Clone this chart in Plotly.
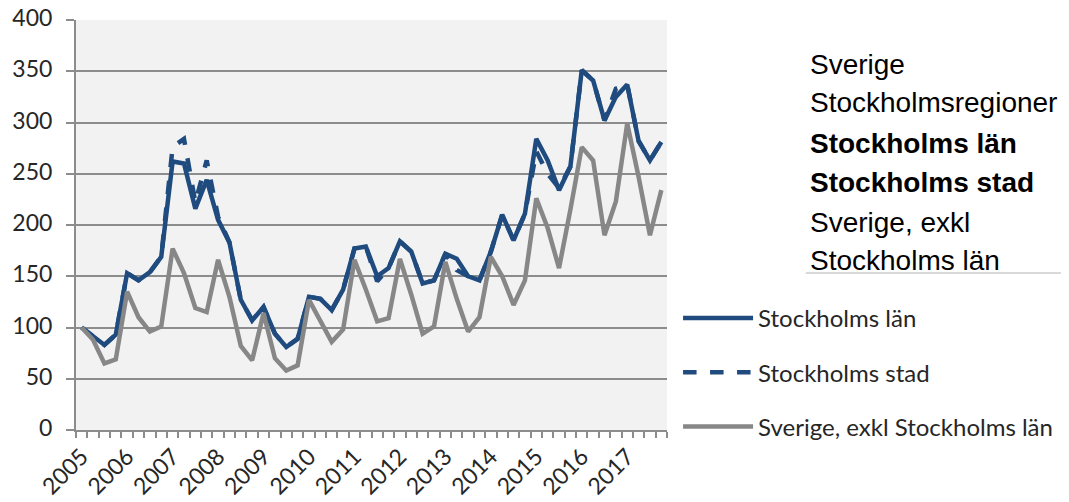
import plotly.graph_objects as go

years = [str(y) for y in range(2005, 2018)]
quarters = [f"{y}K{q}" for y in years for q in range(1, 5)]

lan = [100, 92, 83, 93, 153, 146, 154, 169,
       262, 260, 216, 244, 205, 183, 127, 107,
       120, 94, 81, 89, 130, 128, 117, 137,
       177, 179, 150, 158, 184, 174, 143, 146,
       172, 167, 150, 146, 174, 210, 185, 211,
       284, 263, 234, 257, 351, 341, 302, 325,
       337, 282, 263, 281]

stad = [100, 92, 83, 93, 153, 146, 154, 169,
        276, 284, 222, 263, 208, 183, 127, 107,
        120, 94, 81, 89, 130, 128, 117, 137,
        177, 179, 145, 158, 184, 174, 143, 146,
        172, 156, 150, 146, 174, 210, 185, 211,
        272, 250, 236, 257, 351, 341, 302, 333,
        337, 282, 263, 281]

sverige_exkl = [100, 88, 65, 69, 135, 110, 96, 101,
                177, 153, 119, 115, 166, 130, 82, 68,
                114, 70, 58, 63, 127, 107, 86, 98,
                166, 137, 106, 109, 167, 132, 94, 101,
                164, 128, 96, 110, 169, 150, 122, 146,
                226, 197, 158, 215, 276, 263, 190, 223,
                299, 247, 190, 234]

series_names = ["Stockholms län", "Stockholms stad", "Sverige, exkl Stockholms län"]
side_lines = [("Sverige", False), ("Stockholmsregioner", False),
              ("Stockholms län", True), ("Stockholms stad", True),
              ("Sverige, exkl", False), ("Stockholms län", False)]

BLUE = "#1f4b7f"
GRAY = "#878787"
GRID = "#8c8c8c"
TXT = "#262626"

# the page body adds an 8 px offset; the figure is sized to compensate
OFF = 8
W, H = 1069 - OFF, 502 - OFF

xidx = list(range(len(quarters)))

fig = go.Figure()
fig.add_trace(go.Scatter(x=xidx, y=lan, name=series_names[0], mode="lines",
                         line=dict(color=BLUE, width=4.5), legendgroup="a"))
fig.add_trace(go.Scatter(x=xidx, y=stad, name=series_names[1], mode="lines",
                         line=dict(color=BLUE, width=4.5, dash="dash"), legendgroup="b"))
fig.add_trace(go.Scatter(x=xidx, y=sverige_exkl, name=series_names[2], mode="lines",
                         line=dict(color=GRAY, width=4.5), legendgroup="c"))

tickvals = [i for i, q in enumerate(quarters) if q.endswith("K1")]
ticktext = [q[:4] for q in quarters if q.endswith("K1")]

fig.update_layout(
    width=W, height=H,
    margin=dict(l=76 - OFF, r=401, t=20 - OFF, b=72),
    paper_bgcolor="white", plot_bgcolor="#f2f2f2",
    font=dict(family="Lato", size=22, color=TXT),
    showlegend=True,
    legend=dict(x=1.017, xanchor="left", y=0.327, yanchor="top",
                font=dict(family="Lato", size=24, color=TXT),
                bgcolor="rgba(0,0,0,0)", tracegroupgap=20, itemwidth=70),
    xaxis=dict(range=[-0.5, len(quarters) - 0.5], tickmode="array",
               tickvals=tickvals, ticktext=ticktext, tickangle=-45,
               ticks="", showgrid=False, zeroline=False, automargin=False,
               showline=True, linecolor=GRID, linewidth=2,
               tickfont=dict(family="Lato", size=23, color=TXT),
               ticklabelstandoff=2, ticklabeloverflow="allow",
               minor=dict(ticks="outside", tick0=-0.5, dtick=1, ticklen=6,
                          tickcolor=GRID, tickwidth=2, showgrid=False)),
    yaxis=dict(range=[0, 400], dtick=50, showgrid=True, gridcolor=GRID, gridwidth=2,
               zeroline=False, showline=True, linecolor=GRID, linewidth=2,
               automargin=False, ticklabeloverflow="allow",
               ticks="outside", ticklen=8, tickcolor=GRID, tickwidth=2,
               tickfont=dict(family="Lato", size=23, color=TXT),
               ticklabelstandoff=9, ticklabelshift=-2),
)

baselines = [75, 113, 153, 192, 232, 270]
for (txt, bold), yb in zip(side_lines, baselines):
    ycen = yb - 10
    fig.add_annotation(text=f"<b>{txt}</b>" if bold else txt,
                       xref="paper", yref="paper",
                       x=(809 - 76) / 592, y=(430 - ycen) / 410,
                       xanchor="left", yanchor="middle", showarrow=False,
                       font=dict(family="Liberation Sans", size=28, color="black"))

fig.add_shape(type="line", xref="paper", yref="paper",
              x0=(807 - 76) / 592, x1=(1069 - 76) / 592,
              y0=(430 - 273) / 410, y1=(430 - 273) / 410,
              line=dict(color="#d9d9d9", width=2))

fig.write_html("out.html")
